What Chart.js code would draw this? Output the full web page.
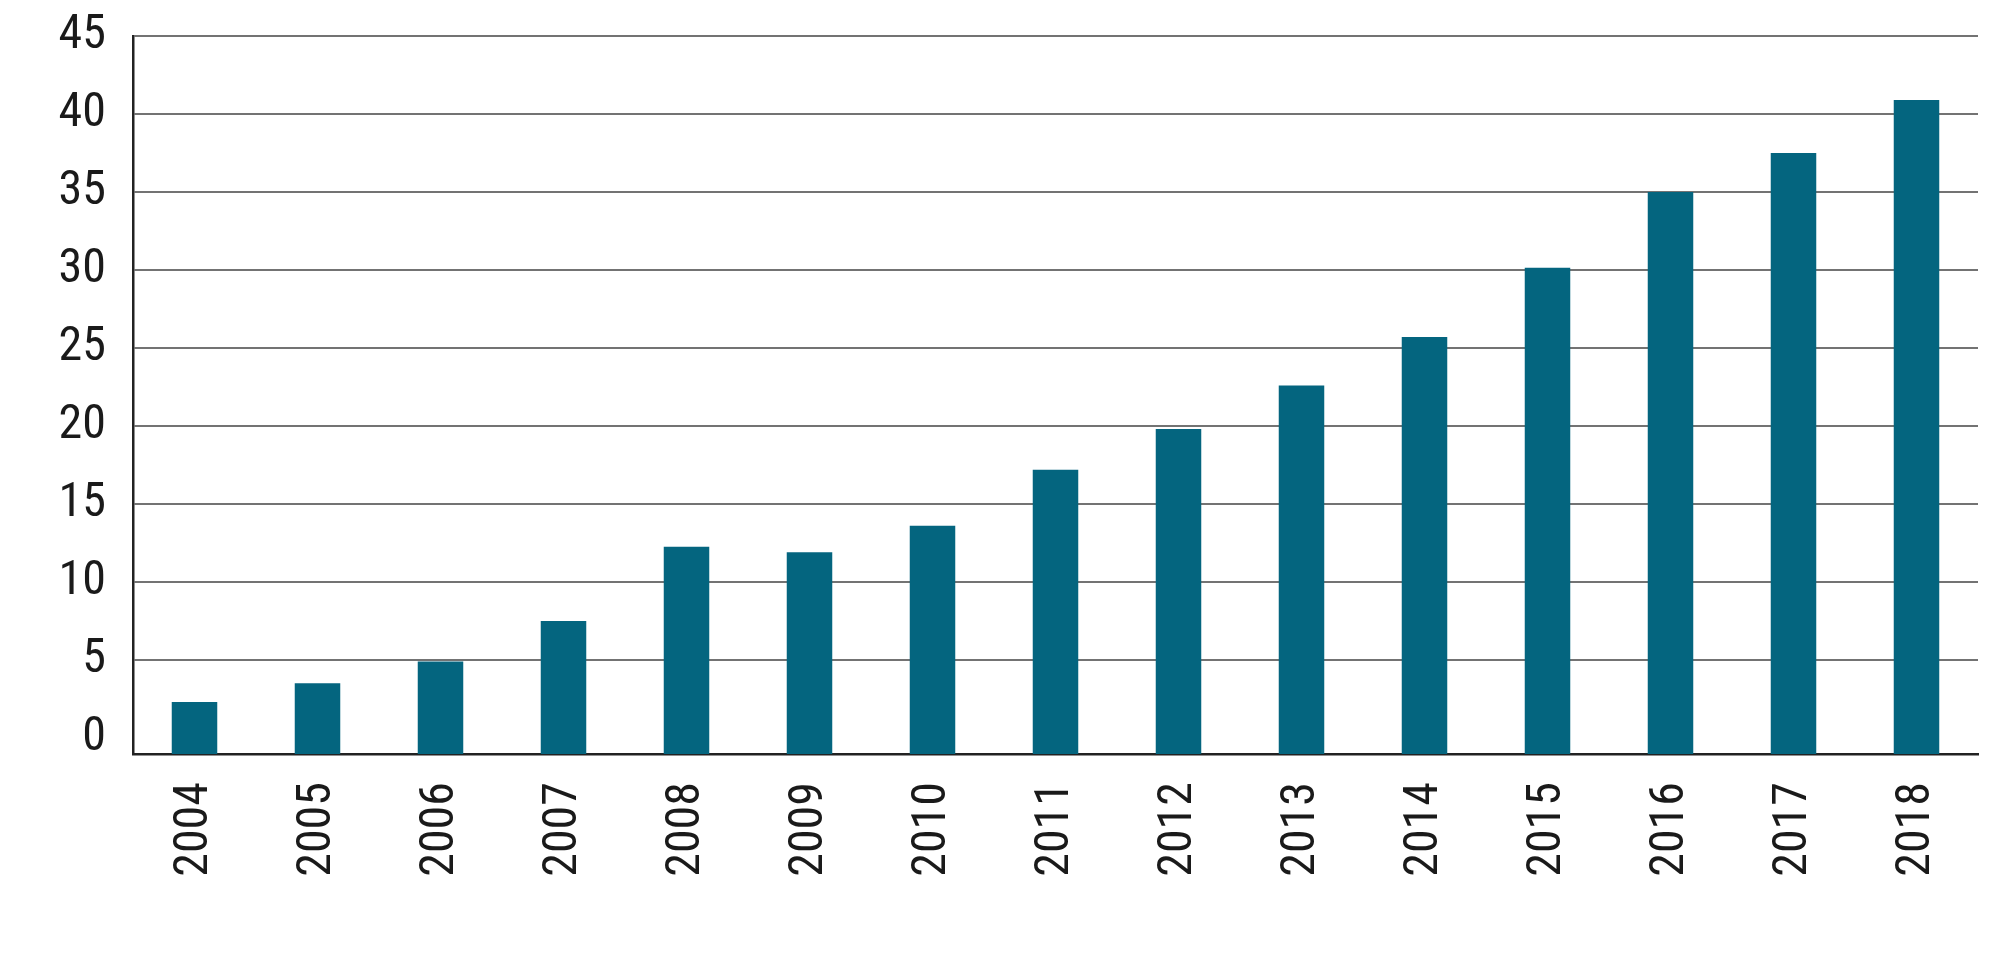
<!DOCTYPE html>
<html>
<head>
<meta charset="utf-8">
<script src="https://cdn.jsdelivr.net/npm/chart.js@4.4.1/dist/chart.umd.min.js"></script>
<style>
  html, body { margin: 0; padding: 0; background: #fff; }
  #wrap { width: 2000px; height: 961px; }
</style>
</head>
<body>
<div id="wrap"><canvas id="grafico"></canvas></div>
<script>
const anos = ['2004', '2005', '2006', '2007', '2008', '2009', '2010', '2011', '2012', '2013', '2014', '2015', '2016', '2017', '2018'];
const valores = [2.3, 3.5, 4.9, 7.5, 12.25, 11.9, 13.6, 17.2, 19.8, 22.6, 25.7, 30.15, 35.0, 37.5, 40.9];
const ticksY = [0, 5, 10, 15, 20, 25, 30, 35, 40, 45];
const minY = -1.03;

// fonte estreita, como no original
const fonte = {
  family: "'Roboto Condensed', 'Liberation Sans Narrow', Roboto, sans-serif",
  weight: "normal condensed",
  size: 48,
};

new Chart(document.getElementById("grafico"), {
  type: "bar",
  data: {
    labels: anos,
    datasets: [
      {
        data: valores,
        base: minY,
        backgroundColor: "#04657f",
        borderWidth: 0,
        barPercentage: 0.37,
        categoryPercentage: 1,
      },
    ],
  },
  options: {
    responsive: true,
    maintainAspectRatio: false,
    animation: false,
    layout: {
      padding: { top: 36, right: 22, left: 0, bottom: 0 },
    },
    scales: {
      x: {
        grid: { display: true, color: "rgba(0,0,0,0)", drawTicks: false },
        border: { display: true, color: "#222", width: 2.5 },
        ticks: {
          color: "#1a1a1a",
          font: fonte,
          minRotation: 90,
          maxRotation: 90,
          padding: 28,
        },
        afterFit: (scale) => {
          scale.height = 207;
          scale.paddingLeft = 0;
          scale.paddingRight = 0;
        },
      },
      y: {
        min: minY,
        max: 45,
        afterBuildTicks: (scale) => {
          scale.ticks = ticksY.map((v) => ({ value: v }));
        },
        grid: {
          color: (ctx) => (ctx.tick && ctx.tick.value === 0 ? "rgba(0,0,0,0)" : "#737373"),
          lineWidth: 2,
          drawTicks: false,
        },
        border: { display: true, color: "#222", width: 2.5 },
        ticks: {
          color: "#1a1a1a",
          font: fonte,
          padding: 27,
        },
        afterFit: (scale) => {
          scale.width = 133;
          scale.paddingTop = 0;
          scale.paddingBottom = 0;
        },
      },
    },
    plugins: {
      legend: { display: false },
      tooltip: { enabled: false },
    },
  },
});
</script>
</body>
</html>
